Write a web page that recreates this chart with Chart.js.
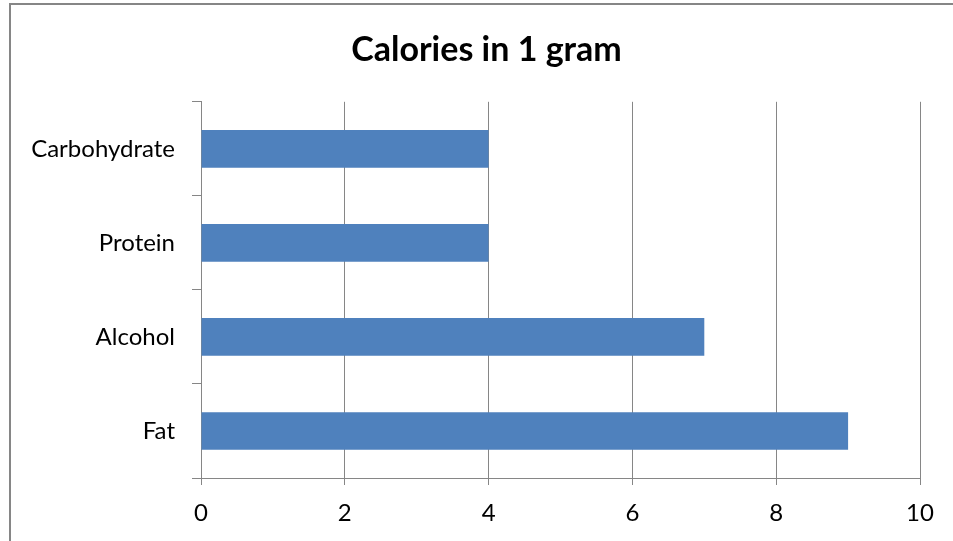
<!DOCTYPE html>
<html>
<head>
<meta charset="utf-8">
<script src="https://cdn.jsdelivr.net/npm/chart.js@4/dist/chart.umd.min.js"></script>
<style>
  html, body { margin: 0; padding: 0; background: #fff; overflow: hidden; }
  #wrap { position: relative; width: 953px; height: 541px; overflow: hidden; }
</style>
</head>
<body>
<div id="wrap"><canvas id="c" width="973" height="541"></canvas></div>
<script>
// Energy content per gram of each macronutrient
const categories = ['Carbohydrate', 'Protein', 'Alcohol', 'Fat'];
const calories = [4, 4, 7, 9];
const xTicks = [0, 2, 4, 6, 8, 10];

const FONT = 'Lato, "Open Sans", sans-serif';
const GREY = '#868686';

// Outer frame of the chart object
const framePlugin = {
  id: 'frame',
  beforeDraw(chart) {
    const ctx = chart.ctx;
    ctx.save();
    ctx.fillStyle = '#fff';
    ctx.fillRect(0, 0, chart.width, chart.height);
    ctx.strokeStyle = GREY;
    ctx.lineWidth = 2;
    ctx.strokeRect(10, 4, chart.width + 20, chart.height + 20);
    ctx.restore();
  }
};

new Chart(document.getElementById('c'), {
  type: 'bar',
  data: {
    labels: categories,
    datasets: [{
      label: 'Calories',
      data: calories,
      backgroundColor: '#4F81BD',
      borderWidth: 0,
      barPercentage: 0.4,
      categoryPercentage: 1.0
    }]
  },
  options: {
    indexAxis: 'y',
    responsive: false,
    animation: false,
    layout: { padding: 0 },
    plugins: {
      legend: { display: false },
      tooltip: { enabled: false },
      title: {
        display: true,
        text: 'Calories in 1 gram',
        color: '#000',
        font: { family: FONT, size: 34, weight: 'bold', lineHeight: 1.2 },
        padding: { top: 30, bottom: 31 }
      }
    },
    scales: {
      x: {
        type: 'linear',
        min: 0,
        max: 10,
        afterBuildTicks(axis) { axis.ticks = xTicks.map(v => ({ value: v })); },
        afterFit(axis) { axis.height = 63; },
        grid: {
          color: GREY,
          lineWidth: 1,
          drawTicks: true,
          tickLength: 7,
          tickColor: GREY
        },
        border: { display: true, color: GREY, width: 1 },
        ticks: {
          color: '#000',
          padding: 14,
          maxRotation: 0,
          font: { family: FONT, size: 24 }
        }
      },
      y: {
        type: 'category',
        afterFit(axis) { axis.width = 201; },
        grid: {
          offset: true,
          drawOnChartArea: false,
          drawTicks: true,
          tickLength: 9,
          tickColor: GREY,
          color: GREY
        },
        border: { display: true, color: GREY, width: 1 },
        ticks: {
          color: '#000',
          padding: 17,
          font: { family: FONT, size: 24 }
        }
      },
      // empty margin on the right of the plot
      yRight: {
        type: 'category',
        position: 'right',
        afterFit(axis) { axis.width = 53; },
        grid: { display: false },
        border: { display: false },
        ticks: { display: false }
      }
    }
  },
  plugins: [framePlugin]
});
</script>
</body>
</html>
